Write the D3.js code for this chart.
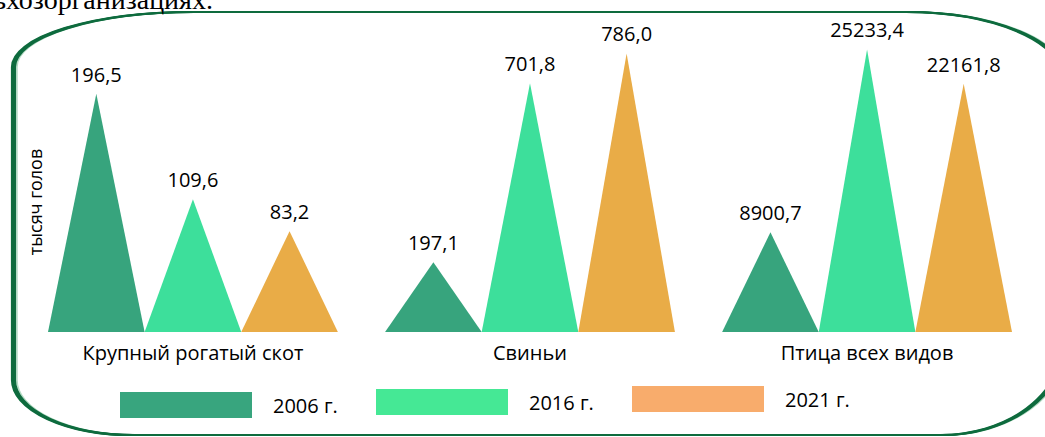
<!DOCTYPE html>
<html>
<head>
<meta charset="utf-8">
<script src="https://cdn.jsdelivr.net/npm/d3@7"></script>
<style>
  html, body { margin: 0; padding: 0; background: #fff; }
  svg { display: block; }
  text { font-family: "Open Sans", sans-serif; fill: #000; }
</style>
</head>
<body>
<svg id="chart" width="1045" height="437"></svg>
<script>
// data (тысяч голов)
const categories = ["Крупный рогатый скот", "Свиньи", "Птица всех видов"];
const years = ["2006 г.", "2016 г.", "2021 г."];
const values2006 = [196.5, 197.1, 8900.7];
const values2016 = [109.6, 701.8, 25233.4];
const values2021 = [83.2, 786.0, 22161.8];
// every group has its own scale in the original
const groupMax = [231, 790, 25000];

const triColors = ["#37a47d", "#3ddf9b", "#e9ac47"];
const legendColors = ["#38a57e", "#45e895", "#f8ac6c"];

const baseY = 332, plotH = 280;
const svg = d3.select('#chart');

const fmt = v => d3.format(".1f")(v).replace('.', ',');

// --- frame (rounded bracket shape, thicker on the left)
const L = 12, T = 12, R = 1062, B = 435;
const framePath = `M ${L},${T + 55} A 180,55 0 0 1 ${L + 180},${T}
  L ${R - 157},${T} A 157,65 0 0 1 ${R},${T + 65}
  L ${R},${B - 90} A 122,90 0 0 1 ${R - 122},${B}
  L ${L + 120},${B} A 120,55 0 0 1 ${L},${B - 55} Z`;

svg.append('path')
   .attr('d', framePath)
   .attr('transform', 'translate(5,0)')
   .attr('fill', 'none')
   .attr('stroke', '#b5dcc5')
   .attr('stroke-width', 1.5);
[0, 1.5, 3].forEach(dx => {
  svg.append('path')
     .attr('d', framePath)
     .attr('transform', `translate(${dx},0)`)
     .attr('fill', 'none')
     .attr('stroke', '#0e6b3e')
     .attr('stroke-width', 2.2);
});

// clipped line of text from the page above
svg.append('text')
   .attr('x', 213).attr('y', 9)
   .attr('text-anchor', 'end')
   .style('font-family', '"Liberation Serif", serif')
   .style('font-size', '28px')
   .text('сельхозорганизациях.');

// --- scales
const x0 = d3.scaleBand().domain(categories).range([48, 1012]).paddingInner(0.14);
const x1 = d3.scaleBand().domain(years).range([0, x0.bandwidth()]).padding(0);
const yScales = groupMax.map(m => d3.scaleLinear().domain([0, m]).range([baseY, baseY - plotH]));

const rows = categories.map((c, i) => ({
  cat: c,
  idx: i,
  vals: [values2006[i], values2016[i], values2021[i]].map((v, j) => ({year: years[j], j: j, v: v}))
}));

const groups = svg.selectAll('g.grp')
  .data(rows)
  .join('g')
  .attr('class', 'grp')
  .attr('transform', d => `translate(${x0(d.cat)},0)`);

groups.selectAll('path.tri')
  .data(d => d.vals.map(e => Object.assign({gi: d.idx}, e)))
  .join('path')
  .attr('class', 'tri')
  .attr('fill', d => triColors[d.j])
  .attr('d', d => {
    const xl = x1(d.year), xr = xl + x1.bandwidth(), xm = xl + x1.bandwidth() / 2;
    const yt = yScales[d.gi](d.v);
    return `M${xl},${baseY} L${xm},${yt} L${xr},${baseY} Z`;
  });

groups.selectAll('text.val')
  .data(d => d.vals.map(e => Object.assign({gi: d.idx}, e)))
  .join('text')
  .attr('class', 'val')
  .attr('x', d => x1(d.year) + x1.bandwidth() / 2)
  .attr('y', d => yScales[d.gi](d.v) - 12)
  .attr('text-anchor', 'middle')
  .style('font-size', '20px')
  .text(d => fmt(d.v));

groups.append('text')
  .attr('x', x0.bandwidth() / 2)
  .attr('y', 360)
  .attr('text-anchor', 'middle')
  .style('font-size', '20px')
  .text(d => d.cat);

// axis title
svg.append('text')
   .attr('transform', 'translate(42,202) rotate(-90)')
   .attr('text-anchor', 'middle')
   .style('font-size', '18px')
   .text('тысяч голов');

// --- legend (slightly sloped like the original)
const leg = svg.selectAll('g.leg')
  .data(years)
  .join('g')
  .attr('class', 'leg')
  .attr('transform', (d, i) => `translate(${120 + i * 256},${392 - i * 3})`);

leg.append('rect')
   .attr('width', 132).attr('height', 26)
   .attr('fill', (d, i) => legendColors[i]);

leg.append('text')
   .attr('x', 153).attr('y', 14)
   .attr('dy', '0.35em')
   .style('font-size', '20px')
   .text(d => d);
</script>
</body>
</html>
